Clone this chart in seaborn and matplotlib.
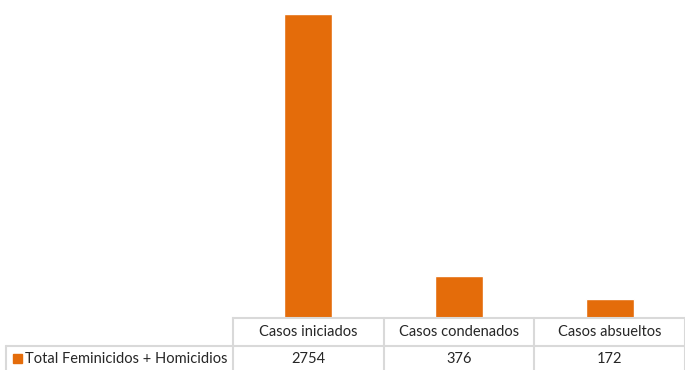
import numpy as np
import pandas as pd
import matplotlib.pyplot as plt
import seaborn as sns
from matplotlib.lines import Line2D
from matplotlib.patches import Rectangle

# -------------------- data --------------------
categories = ['Casos iniciados', 'Casos condenados', 'Casos absueltos']
values = [2754, 376, 172]
series_name = 'Total Feminicidos + Homicidios'

df = pd.DataFrame({'categoria': categories, 'casos': values})

W, H = 685, 370
bar_color = '#E46C0A'
grid_color = '#D9D9D9'

sns.set_style('white')
plt.rcParams['font.family'] = ['Lato', 'DejaVu Sans']

fig = plt.figure(figsize=(W / 100, H / 100), dpi=100)
# plot area: x 233..685, y 0..318 (pixels from top)
ax = fig.add_axes([233 / W, (H - 318) / H, (W - 233) / W, 318 / H])

sns.barplot(data=df, x='categoria', y='casos', color=bar_color,
            width=0.32, saturation=1, ax=ax)
ax.set_xlim(-0.5, 2.5)
ax.set_ylim(0, 2880)
ax.set_xlabel('')
ax.set_ylabel('')
ax.set_xticks([])
ax.set_yticks([])
for s in ['top', 'right', 'left']:
    ax.spines[s].set_visible(False)
ax.spines['bottom'].set_color(grid_color)
ax.spines['bottom'].set_linewidth(1.5)

# -------------------- data table --------------------
def fx(px):
    return px / W

def fy(py):
    return 1 - py / H

lw = 1.5
fs = 10.5
col_edges = [233, 383.7, 534.3, 685]
lines = [((6, 685), (346, 346))]
for xe in col_edges:
    lines.append(((xe, xe), (318, 372)))
lines.append(((6, 6), (346, 372)))
for xs, ys in lines:
    fig.add_artist(Line2D([fx(v) for v in xs], [fy(v) for v in ys],
                          color=grid_color, lw=lw))

for i, (cat, val) in enumerate(zip(categories, values)):
    cx = (col_edges[i] + col_edges[i + 1]) / 2
    fig.text(fx(cx), fy(332), cat, ha='center', va='center', fontsize=fs)
    fig.text(fx(cx), fy(359), str(val), ha='center', va='center', fontsize=fs)

fig.add_artist(Rectangle((fx(13), fy(363)), 9 / W, 9 / H, color=bar_color,
                         transform=fig.transFigure))
fig.text(fx(25), fy(359), series_name, ha='left', va='center', fontsize=fs)

plt.savefig('out.png', dpi=100)
